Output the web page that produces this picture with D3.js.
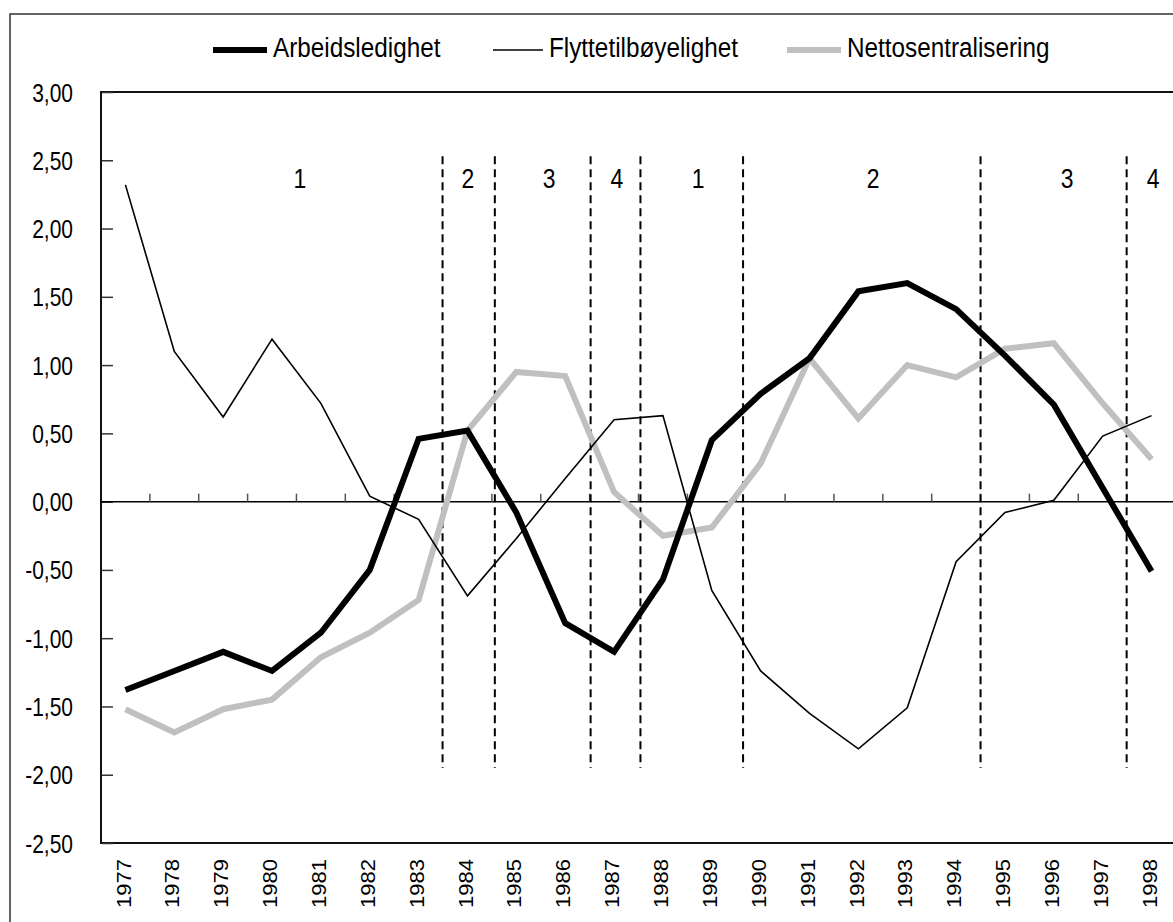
<!DOCTYPE html>
<html>
<head>
<meta charset="utf-8">
<script src="https://cdn.jsdelivr.net/npm/d3@7"></script>
<style>
  body { margin: 0; background: #fff; }
  text { font-family: "Liberation Sans", Arial, sans-serif; fill: #000; }
</style>
</head>
<body>
<div class="viz"></div>
<script>
// data
var years = [1977,1978,1979,1980,1981,1982,1983,1984,1985,1986,1987,1988,1989,1990,1991,1992,1993,1994,1995,1996,1997,1998];
var arbeidsledighet = [-1.38,-1.24,-1.10,-1.24,-0.96,-0.50,0.46,0.52,-0.08,-0.89,-1.10,-0.57,0.45,0.79,1.05,1.54,1.60,1.41,1.07,0.71,0.10,-0.51];
var flyttetilboyelighet = [2.32,1.10,0.62,1.19,0.72,0.04,-0.13,-0.69,-0.27,0.17,0.60,0.63,-0.65,-1.24,-1.55,-1.81,-1.51,-0.44,-0.08,0.01,0.48,0.63];
var nettosentralisering = [-1.52,-1.69,-1.52,-1.45,-1.14,-0.96,-0.72,0.52,0.95,0.92,0.07,-0.25,-0.19,0.28,1.05,0.61,1.00,0.91,1.12,1.16,0.72,0.31];
var seriesNames = ['Arbeidsledighet', 'Flyttetilbøyelighet', 'Nettosentralisering'];
// period boundaries (dashed) and period labels, as positions on the year axis
var periodBreaks = [1983.49, 1984.56, 1986.52, 1987.54, 1989.64, 1994.50, 1997.49];
var periodLabels = ['1','2','3','4','1','2','3','4'];
var periodLabelPos = [1980.57, 1984.01, 1985.67, 1987.06, 1988.72, 1992.30, 1996.27, 1998.03];
var yTicks = [-2.5,-2,-1.5,-1,-0.5,0,0.5,1,1.5,2,2.5,3];

var W = 1173, H = 922;
var plot = {left: 101, top: 92, bottom: 843, right: 1176};

var svg = d3.select('.viz').append('svg')
  .attr('width', W)
  .attr('height', H);

// outer frame
svg.append('rect')
  .attr('x', 10).attr('y', 14)
  .attr('width', 1180).attr('height', 940)
  .attr('fill', 'none')
  .attr('stroke', '#333')
  .attr('stroke-width', 1.5);

// scales
var xBand = d3.scaleBand().domain(years).range([plot.left, plot.right]).padding(0);
var bw = xBand.bandwidth();
function xc(yr) { return xBand(yr) + bw / 2; }
var xPos = d3.scaleLinear().domain([1977, 1998]).range([xc(1977), xc(1998)]);
var yScale = d3.scaleLinear().domain([-2.5, 3]).range([plot.bottom, plot.top]);

var no = d3.formatLocale({decimal: ',', thousands: ' ', grouping: [3], currency: ['', ''], minus: '-'});
var fmt = no.format('.2f');

// plot frame
svg.append('rect')
  .attr('x', plot.left).attr('y', plot.top)
  .attr('width', plot.right - plot.left + 10)
  .attr('height', plot.bottom - plot.top)
  .attr('fill', 'none')
  .attr('stroke', '#111')
  .attr('stroke-width', 2);

// y axis
var yAx = svg.append('g')
  .attr('transform', 'translate(' + (plot.left + 1) + ',0)')
  .call(d3.axisLeft(yScale).tickValues(yTicks).tickSize(-11).tickPadding(29).tickFormat(fmt));
yAx.select('.domain').remove();
yAx.selectAll('.tick line').attr('stroke', '#333').attr('stroke-width', 1.5);
yAx.selectAll('.tick text')
  .attr('font-size', 25)
  .attr('fill', '#000')
  .attr('x', -29 / 0.84)
  .attr('dy', '0.36em')
  .attr('transform', 'scale(0.84,1)');

// x labels
svg.selectAll('.xlab')
  .data(years)
  .enter().append('text')
  .attr('class', 'xlab')
  .attr('text-anchor', 'end')
  .attr('font-size', 22)
  .attr('dy', '0.36em')
  .attr('transform', function(d) { return 'translate(' + (xc(d) - 2) + ',859) scale(0.9,1) rotate(-90)'; })
  .text(function(d) { return d; });

// zero line with category ticks
svg.append('line')
  .attr('x1', plot.left).attr('x2', W)
  .attr('y1', yScale(0)).attr('y2', yScale(0))
  .attr('stroke', '#000').attr('stroke-width', 1.5);
svg.selectAll('.zt')
  .data(years.slice(1))
  .enter().append('line')
  .attr('class', 'zt')
  .attr('x1', function(d) { return xBand(d); })
  .attr('x2', function(d) { return xBand(d); })
  .attr('y1', yScale(0) - 8).attr('y2', yScale(0))
  .attr('stroke', '#555').attr('stroke-width', 1.5);

// period breaks
svg.selectAll('.brk')
  .data(periodBreaks)
  .enter().append('line')
  .attr('class', 'brk')
  .attr('x1', function(d) { return xPos(d); })
  .attr('x2', function(d) { return xPos(d); })
  .attr('y1', yScale(2.53)).attr('y2', yScale(-1.95))
  .attr('stroke', '#000').attr('stroke-width', 2)
  .attr('stroke-dasharray', '8,5');

svg.selectAll('.plab')
  .data(periodLabels)
  .enter().append('text')
  .attr('class', 'plab')
  .attr('text-anchor', 'middle')
  .attr('font-size', 27)
  .attr('transform', function(d, i) { return 'translate(' + xPos(periodLabelPos[i]) + ',' + yScale(2.30) + ') scale(0.85,1)'; })
  .text(function(d) { return d; });

// lines
var line = d3.line()
  .x(function(d, i) { return xc(years[i]); })
  .y(function(d) { return yScale(d); });

var styles = [
  {data: arbeidsledighet, color: '#000', width: 6},
  {data: flyttetilboyelighet, color: '#000', width: 1.6},
  {data: nettosentralisering, color: '#c0c0c0', width: 6}
];
// draw gray first, then thick black, then thin
[2, 0, 1].forEach(function(k) {
  svg.append('path')
    .datum(styles[k].data)
    .attr('fill', 'none')
    .attr('stroke', styles[k].color)
    .attr('stroke-width', styles[k].width)
    .attr('stroke-linejoin', 'miter')
    .attr('d', line);
});

// legend
var legX = [213, 493, 787];
var legLen = [54, 50, 54];
var leg = svg.selectAll('.leg')
  .data(seriesNames)
  .enter().append('g')
  .attr('class', 'leg');
leg.append('line')
  .attr('x1', function(d, i) { return legX[i]; })
  .attr('x2', function(d, i) { return legX[i] + legLen[i]; })
  .attr('y1', 50).attr('y2', 50)
  .attr('stroke', function(d, i) { return styles[i].color; })
  .attr('stroke-width', function(d, i) { return styles[i].width; });
leg.append('text')
  .attr('font-size', 27)
  .attr('transform', function(d, i) { return 'translate(' + (legX[i] + legLen[i] + 6) + ',57) scale(0.9,1)'; })
  .text(function(d) { return d; });
</script>
</body>
</html>
